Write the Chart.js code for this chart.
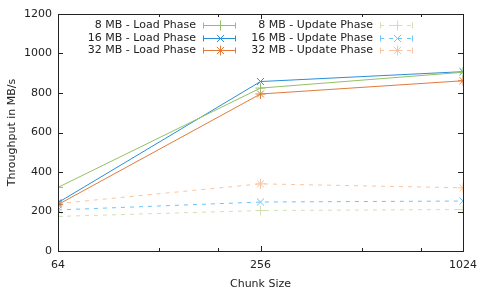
<!DOCTYPE html>
<html>
<head>
<meta charset="utf-8">
<script src="https://cdn.jsdelivr.net/npm/chart.js@4/dist/chart.umd.min.js"></script>
<style>
  html, body { margin: 0; padding: 0; background: #fff; }
  #wrap { width: 485px; height: 291px; }
</style>
</head>
<body>
<div id="wrap"><canvas id="chart" width="485" height="291"></canvas></div>
<script>
// Chart data
const chunkSizes = [64, 256, 1024];
const xTickValues = [64, 128, 192, 256, 512, 768, 1024];
const xTickLabels = ['64', '256', '1024'];
const yTickValues = [0, 200, 400, 600, 800, 1000, 1200];

const load8 = [322, 825, 905];
const load16 = [245, 858, 908];
const load32 = [235, 795, 862];
const update8 = [175, 205, 210];
const update16 = [208, 248, 253];
const update32 = [240, 340, 320];

const seriesLabels = [
  '8 MB - Load Phase', '16 MB - Load Phase', '32 MB - Load Phase',
  '8 MB - Update Phase', '16 MB - Update Phase', '32 MB - Update Phase',
];

const FONT = 'DejaVu Sans';

function makeSet(label, values, color, style, dashed) {
  return {
    label: label,
    data: chunkSizes.map((x, i) => ({ x: x, y: values[i] })),
    borderColor: color,
    backgroundColor: color,
    borderWidth: 1,
    borderDash: dashed ? [4, 5] : [],
    pointStyle: style,
    pointRadius: 5,
    pointBorderWidth: 1,
    pointBorderColor: color,
    pointBackgroundColor: color,
    fill: false,
    tension: 0,
  };
}

// small marker for the legend samples
function drawMarker(ctx, style, x, y, r) {
  ctx.beginPath();
  if (style === 'cross' || style === 'star') {
    ctx.moveTo(x - r, y); ctx.lineTo(x + r, y);
    ctx.moveTo(x, y - r); ctx.lineTo(x, y + r);
  }
  if (style === 'crossRot' || style === 'star') {
    const d = r * 0.72;
    ctx.moveTo(x - d, y - d); ctx.lineTo(x + d, y + d);
    ctx.moveTo(x - d, y + d); ctx.lineTo(x + d, y - d);
  }
  ctx.stroke();
}

// gnuplot-like box with inward ticks + two-column legend
const framePlugin = {
  id: 'frame',
  afterDraw(chart) {
    const ctx = chart.ctx;
    const a = chart.chartArea;
    const xs = chart.scales.x;
    const ys = chart.scales.y;
    ctx.save();
    ctx.strokeStyle = '#222';
    ctx.lineWidth = 1;
    ctx.strokeRect(Math.round(a.left) + 0.5, Math.round(a.top) + 0.5,
      Math.round(a.right - a.left), Math.round(a.bottom - a.top));
    ctx.beginPath();
    xTickValues.forEach(v => {
      const px = Math.round(xs.getPixelForValue(v)) + 0.5;
      const len = chunkSizes.includes(v) ? 5 : 3;
      ctx.moveTo(px, a.bottom); ctx.lineTo(px, a.bottom - len);
      ctx.moveTo(px, a.top); ctx.lineTo(px, a.top + len);
    });
    yTickValues.forEach(v => {
      const py = Math.round(ys.getPixelForValue(v)) + 0.5;
      ctx.moveTo(a.left, py); ctx.lineTo(a.left + 5, py);
      ctx.moveTo(a.right, py); ctx.lineTo(a.right - 5, py);
    });
    ctx.stroke();

    // legend
    ctx.font = '11px "' + FONT + '"';
    ctx.textAlign = 'right';
    ctx.textBaseline = 'middle';
    chart.data.datasets.forEach((ds, i) => {
      const col = i < 3 ? 0 : 1;
      const row = i % 3;
      const tx = col === 0 ? 196 : 373;
      const ty = 25 + row * 12.7;
      ctx.fillStyle = '#222';
      ctx.fillText(ds.label, tx, ty);
      const x0 = tx + 7, x1 = tx + 40, xm = (x0 + x1) / 2;
      const yy = Math.round(ty) + 0.5;
      ctx.strokeStyle = ds.borderColor;
      ctx.lineWidth = 1;
      ctx.setLineDash(ds.borderDash);
      ctx.beginPath();
      ctx.moveTo(x0, yy); ctx.lineTo(x1, yy);
      ctx.stroke();
      ctx.setLineDash([]);
      ctx.beginPath();
      ctx.moveTo(x0 + 0.5, yy - 3); ctx.lineTo(x0 + 0.5, yy + 3);
      ctx.moveTo(x1 - 0.5, yy - 3); ctx.lineTo(x1 - 0.5, yy + 3);
      ctx.stroke();
      drawMarker(ctx, ds.pointStyle, Math.round(xm) + 0.5, yy, 5);
    });
    ctx.restore();
  },
};

const config = {
  type: 'line',
  data: {
    datasets: [
      makeSet(seriesLabels[0], load8, '#93c065', 'cross', false),
      makeSet(seriesLabels[1], load16, '#2b8fd6', 'crossRot', false),
      makeSet(seriesLabels[2], load32, '#e07b3c', 'star', false),
      makeSet(seriesLabels[3], update8, '#cfe1b3', 'cross', true),
      makeSet(seriesLabels[4], update16, '#6cc4f7', 'crossRot', true),
      makeSet(seriesLabels[5], update32, '#f8c4a0', 'star', true),
    ],
  },
  options: {
    responsive: false,
    animation: false,
    layout: { padding: { left: 0, top: 14, right: 21, bottom: 0 } },
    scales: {
      x: {
        type: 'logarithmic',
        min: 64,
        max: 1024,
        afterBuildTicks: (scale) => {
          scale.ticks = xTickValues.map(v => ({ value: v }));
        },
        afterFit: (scale) => { scale.height = 40; },
        grid: { display: false, drawTicks: false },
        border: { display: false },
        ticks: {
          autoSkip: false,
          maxRotation: 0,
          padding: 8,
          color: '#222',
          font: { family: FONT, size: 11 },
          callback: (v) => (xTickLabels.includes(String(v)) ? String(v) : ''),
        },
        title: {
          display: true,
          text: 'Chunk Size',
          color: '#222',
          font: { family: FONT, size: 11 },
          padding: { top: 4, bottom: 0 },
        },
      },
      y: {
        min: 0,
        max: 1200,
        afterFit: (scale) => { scale.width = 58; },
        grid: { display: false, drawTicks: false },
        border: { display: false },
        ticks: {
          stepSize: 200,
          padding: 6,
          color: '#222',
          font: { family: FONT, size: 11 },
          callback: (v) => String(v),
        },
        title: {
          display: true,
          text: 'Throughput in MB/s',
          color: '#222',
          font: { family: FONT, size: 11 },
          padding: { top: 6, bottom: 0 },
        },
      },
    },
    plugins: {
      legend: { display: false },
      tooltip: { enabled: false },
    },
  },
  plugins: [framePlugin],
};

new Chart(document.getElementById('chart'), config);
</script>
</body>
</html>
